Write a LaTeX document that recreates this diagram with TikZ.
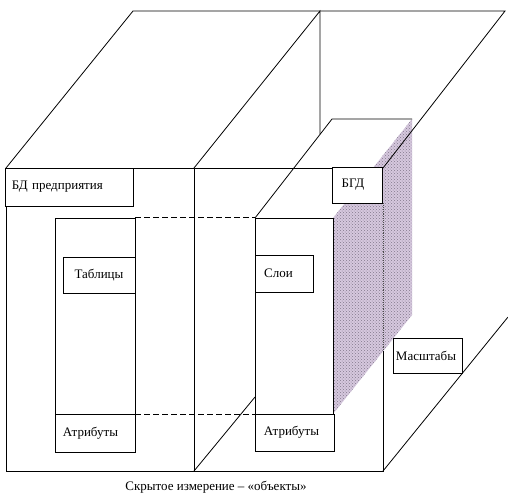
\documentclass[tikz,border=0pt]{standalone}
\usepackage{fontspec}
\setmainfont{Liberation Serif}
\usetikzlibrary{patterns}
\definecolor{shadebg}{RGB}{214,200,222}
\definecolor{shadedot}{RGB}{130,120,140}
\begin{document}
\begin{tikzpicture}[x=1pt,y=-1pt,
  wire/.style={line width=0.8pt,black},
  dash line/.style={line width=0.9pt,dashed,dash pattern=on 6pt off 3pt},
  box/.style={draw,line width=0.8pt,fill=white,inner sep=0pt,font=\fontsize{13}{15}\selectfont},
  col/.style={draw,line width=0.8pt,fill=white,inner sep=0pt}]
\useasboundingbox (0,0) rectangle (508,499);
\fill[white] (0,0) rectangle (508,499);
% coordinates
\coordinate (F1) at (6,168);
\coordinate (F2) at (383,168);
\coordinate (F3) at (383,471);
\coordinate (F4) at (6,471);
\coordinate (M1) at (194,168);
\coordinate (M2) at (194,471);
\coordinate (B1) at (133,11);
\coordinate (B2) at (320,11);
\coordinate (B3) at (505,11);
\coordinate (V2) at (320,134);
\coordinate (Mb) at (255,397);
\coordinate (Rb) at (508,317);
\coordinate (T1) at (255,218);
\coordinate (T2) at (332,119);
\coordinate (T3) at (412,119);
\coordinate (T4) at (333,218);
\coordinate (S3) at (412,315);
\coordinate (S4) at (333,414);
\coordinate (E1) at (383,203);
\coordinate (E2) at (383,351);
% shaded side face
\fill[shadebg] (T4) -- (T3) -- (S3) -- (S4) -- cycle;
\fill[pattern=crosshatch dots,pattern color=shadedot] (T4) -- (T3) -- (S3) -- (S4) -- cycle;
% wireframe
\draw[wire] (E2) -- (F3) -- (F4) -- (F1) -- (F2);
\draw[line width=0.9pt,black!70,densely dotted] (E1) -- (E2);
\draw[wire] (M1) -- (M2);
\draw[wire] (F1) -- (B1) -- (B3) -- (F2);
\draw[wire] (M1) -- (B2) -- (V2);
\draw[wire] (M2) -- (Mb);
\draw[wire] (F3) -- (Rb);
\draw[wire] (T1) -- (T2) -- (T3);
\draw[wire] (T1) -- (T4);
% columns
\node[col,minimum width=80pt,minimum height=196pt] (colL) at (95,316) {};
\node[col,minimum width=78pt,minimum height=196pt] (colR) at (294,316) {};
\draw[dash line] (colL.north east) -- (colR.north west);
\draw[dash line] (colL.south east) -- (colR.south west);
% boxes
\node[box,text width=114pt,align=left,inner xsep=7pt,minimum height=38pt] (bdp) at (69,187) {БД предприятия};
\node[box,minimum width=72pt,minimum height=36pt] (tab) at (99,275) {Таблицы};
\node[box,minimum width=80pt,minimum height=38pt] (attrL) at (95,433) {\hspace{-9pt}Атрибуты};
\node[box,minimum width=58pt,minimum height=37pt] (sloi) at (284,273.5) {\hspace{-11pt}Слои};
\node[box,minimum width=79pt,minimum height=37pt] (attrR) at (294.5,432.5) {\hspace{-6pt}Атрибуты};
\node[box,minimum width=50pt,minimum height=36pt] (bgd) at (357,185) {\hspace{-8pt}БГД};
\node[box,minimum width=69pt,minimum height=35pt] (masht) at (427.5,355.5) {\hspace{-3pt}Масштабы};
\node[font=\fontsize{13}{15}\selectfont,inner sep=0pt] (cap) at (216,487) {Скрытое измерение – «объекты»};
\end{tikzpicture}
\end{document}
